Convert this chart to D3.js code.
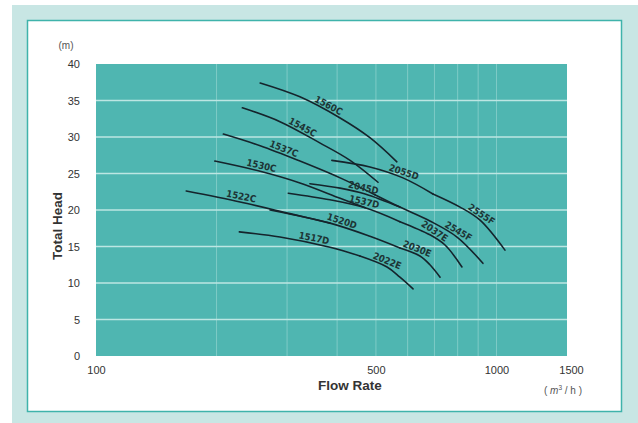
<!DOCTYPE html>
<html>
<head>
<meta charset="utf-8">
<script src="https://cdn.jsdelivr.net/npm/d3@7/dist/d3.min.js"></script>
<style>
  html, body { margin: 0; padding: 0; background: #ffffff; }
  svg { display: block; }
</style>
</head>
<body>
<svg id="chart" width="638" height="423"></svg>
<script>
// Pump performance curves: total head (m) against flow rate (m³/h), log flow axis.

const xTicks = [100, 500, 1000, 1500];
const xGrid = [200, 300, 400, 500, 600, 700, 800, 900, 1000];
const yTicks = [0, 5, 10, 15, 20, 25, 30, 35, 40];

const models = ["1560C", "1545C", "1537C", "2045D", "2545F", "2055D", "2555F",
                "1530C", "1537D", "2037E", "1522C", "1520D", "2030E", "1517D", "2022E"];

// [flow m³/h, head m]
const curve1560C = [[257, 37.4], [323, 35.5], [407, 32.6], [483, 29.9], [564, 26.6]];
const curve1545C = [[232, 34.0], [288, 32.1], [362, 29.2], [431, 26.8], [506, 23.8]];
const curve1537C = [[208, 30.4], [257, 28.8], [323, 26.7], [407, 24.4], [497, 22.1]];
const curve2045D = [[342, 23.6], [407, 23.0], [470, 22.2], [574, 20.4]];
const curve2545F = [[497, 22.1], [574, 20.4], [682, 18.5], [797, 16.3], [925, 12.7]];
const curve2055D = [[388, 26.8], [483, 25.9], [584, 24.4], [694, 22.2]];
const curve2555F = [[694, 22.2], [811, 20.4], [910, 18.6], [1050, 14.5]];
const curve1530C = [[198, 26.7], [257, 25.3], [323, 23.7], [407, 21.6], [470, 20.3]];
const curve1537D = [[302, 22.3], [384, 21.4], [470, 20.3], [574, 18.4]];
const curve2037E = [[574, 18.4], [682, 16.6], [744, 15.2], [820, 12.2]];
const curve1522C = [[168, 22.6], [229, 21.1], [305, 19.5], [384, 18.2]];
const curve1520D = [[272, 20.0], [384, 18.2], [483, 16.4], [574, 14.8]];
const curve2030E = [[574, 14.8], [644, 13.7], [682, 12.5], [723, 10.8]];
const curve1517D = [[228, 17.0], [288, 16.3], [384, 14.9], [456, 13.7]];
const curve2022E = [[456, 13.7], [533, 12.2], [574, 10.8], [619, 9.2]];

// flow at which each model name sits along its curve
const labelFlow = [375, 323, 291, 462, 790, 581, 901, 257, 464, 688, 229, 407, 626, 348, 527];

const curves = [curve1560C, curve1545C, curve1537C, curve2045D, curve2545F, curve2055D, curve2555F,
                curve1530C, curve1537D, curve2037E, curve1522C, curve1520D, curve2030E, curve1517D, curve2022E];

const svg = d3.select("#chart");

// frame
svg.append("rect").attr("x", 12).attr("y", 5).attr("width", 626).attr("height", 418)
  .attr("fill", "#c8e6e4");
svg.append("rect").attr("x", 27.5).attr("y", 20.5).attr("width", 594).attr("height", 391)
  .attr("fill", "#ffffff").attr("stroke", "#3fb3ab").attr("stroke-width", 1.5);

const plot = { left: 96, right: 567, top: 64, bottom: 356 };

const x = d3.scaleLog().domain([100, 1500]).range([plot.left, plot.right]);
const y = d3.scaleLinear().domain([0, 40]).range([plot.bottom, plot.top]);

// plot background
svg.append("rect")
  .attr("x", plot.left).attr("y", plot.top)
  .attr("width", plot.right - plot.left).attr("height", plot.bottom - plot.top)
  .attr("fill", "#4fb6b1");

// vertical grid
svg.append("g").selectAll("line").data(xGrid).join("line")
  .attr("x1", d => x(d)).attr("x2", d => x(d))
  .attr("y1", plot.top).attr("y2", plot.bottom)
  .attr("stroke", "#8fd2ce").attr("stroke-width", 1).attr("opacity", 0.75);

// horizontal grid
svg.append("g").selectAll("line").data(yTicks.filter(d => d > 0 && d < 40)).join("line")
  .attr("x1", plot.left).attr("x2", plot.right)
  .attr("y1", d => y(d)).attr("y2", d => y(d))
  .attr("stroke", "#bde6e3").attr("stroke-width", 1.5);

// axes
const yAxis = d3.axisLeft(y).tickValues(yTicks).tickSize(0).tickPadding(16);
const gy = svg.append("g").attr("transform", `translate(${plot.left},0)`).call(yAxis);
gy.select(".domain").remove();
gy.selectAll("text").attr("font-family", "Liberation Sans, Arial, sans-serif")
  .attr("font-size", 11).attr("fill", "#333");

const xAxis = d3.axisBottom(x).tickValues(xTicks).tickFormat(d3.format("d")).tickSize(0).tickPadding(10);
const gx = svg.append("g").attr("transform", `translate(0,${plot.bottom})`).call(xAxis);
gx.select(".domain").remove();
gx.selectAll("text").attr("font-family", "Liberation Sans, Arial, sans-serif")
  .attr("font-size", 11).attr("fill", "#333");
gx.selectAll(".tick").filter(d => d === 1500).select("text").attr("dx", 4);

// axis titles and units
svg.append("text").attr("x", 350).attr("y", 390).attr("text-anchor", "middle")
  .attr("font-family", "Liberation Sans, Arial, sans-serif").attr("font-weight", "bold")
  .attr("font-size", 13.5).attr("fill", "#333").text("Flow Rate");
svg.append("text").attr("transform", "translate(62,226) rotate(-90)").attr("text-anchor", "middle")
  .attr("font-family", "Liberation Sans, Arial, sans-serif").attr("font-weight", "bold")
  .attr("font-size", 13.5).attr("fill", "#333").text("Total Head");
svg.append("text").attr("x", 66).attr("y", 49).attr("text-anchor", "middle")
  .attr("font-family", "Liberation Sans, Arial, sans-serif")
  .attr("font-size", 10).attr("fill", "#555").text("(m)");
const unit = svg.append("text").attr("x", 563).attr("y", 394).attr("text-anchor", "middle")
  .attr("font-family", "Liberation Sans, Arial, sans-serif")
  .attr("font-size", 10).attr("fill", "#555");
unit.append("tspan").text("( ");
unit.append("tspan").attr("font-style", "italic").text("m");
unit.append("tspan").attr("font-size", 6.5).attr("dy", -4).text("3");
unit.append("tspan").attr("dy", 4).text(" / h )");

// performance curves
const line = d3.line().x(d => x(d[0])).y(d => y(d[1])).curve(d3.curveCatmullRom.alpha(0.5));

svg.append("g").selectAll("path").data(curves).join("path")
  .attr("d", line)
  .attr("fill", "none").attr("stroke", "#15242c").attr("stroke-width", 1.6)
  .attr("stroke-linecap", "round");

// model names laid along each curve
const labels = svg.append("g");
curves.forEach((c, i) => {
  const pts = c.map(d => [x(d[0]), y(d[1])]);
  const lx = x(labelFlow[i]);
  let k = 0;
  while (k < pts.length - 2 && pts[k + 1][0] < lx) k++;
  const [x0, y0] = pts[k], [x1, y1] = pts[k + 1];
  const t = (lx - x0) / (x1 - x0);
  const ly = y0 + t * (y1 - y0);
  const ang = Math.atan2(y1 - y0, x1 - x0) * 180 / Math.PI;
  labels.append("text")
    .attr("transform", `translate(${lx},${ly}) rotate(${ang})`)
    .attr("dy", -2.5)
    .attr("text-anchor", "middle")
    .attr("font-family", "Liberation Sans Narrow, DejaVu Sans Condensed, Arial, sans-serif")
    .attr("font-weight", "bold")
    .attr("font-size", 9.5)
    .attr("fill", "#1d3434")
    .text(models[i]);
});
</script>
</body>
</html>
